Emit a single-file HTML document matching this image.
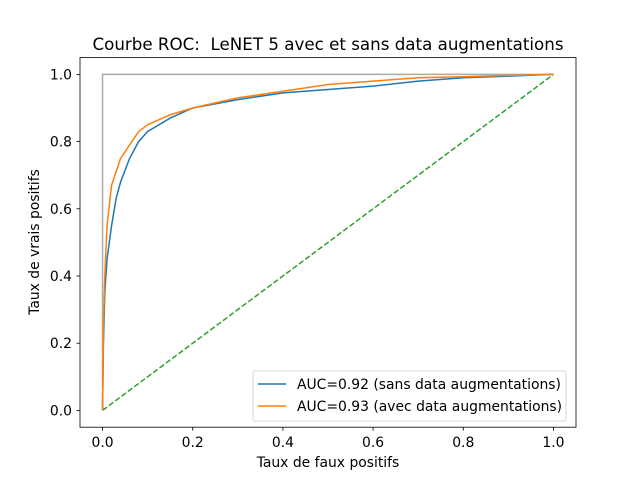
<!DOCTYPE html>
<html><head><meta charset="utf-8"><style>
body{margin:0;background:#fff}
svg{display:block;font-family:"DejaVu Sans","Liberation Sans",sans-serif}
</style></head><body>
<svg id="chart" width="640" height="480" viewBox="0 0 640 480" xmlns="http://www.w3.org/2000/svg">
<rect width="640" height="480" fill="#fff"/>
<text x="328" y="50" font-size="16.7" text-anchor="middle" style="white-space:pre" xml:space="preserve">Courbe ROC:  LeNET 5 avec et sans data augmentations</text>
<g id="plot"></g>
<rect x="80" y="57.6" width="496" height="369.6" fill="none" stroke="#000" stroke-width="0.8"/>
<text x="328" y="467" font-size="13.9" text-anchor="middle">Taux de faux positifs</text>
<text transform="translate(39,242) rotate(-90)" font-size="13.9" text-anchor="middle">Taux de vrais positifs</text>
<g>
<rect x="253" y="371" width="313" height="50" rx="2" fill="#fff" fill-opacity="0.8" stroke="#ccc" stroke-width="0.8"/>
<line x1="258" y1="384" x2="286" y2="384" stroke="#1f77b4" stroke-width="1.5"/>
<text x="297" y="389" font-size="13.9">AUC=0.92 (sans data augmentations)</text>
<line x1="258" y1="406" x2="286" y2="406" stroke="#ff7f0e" stroke-width="1.5"/>
<text x="297" y="411" font-size="13.9">AUC=0.93 (avec data augmentations)</text>
</g>
</svg>
<script>
const xTicks=[0,0.2,0.4,0.6,0.8,1.0];
const yTicks=[0,0.2,0.4,0.6,0.8,1.0];
const blueFpr=[0,0.002,0.005,0.01,0.02,0.03,0.04,0.06,0.08,0.1,0.15,0.2,0.3,0.4,0.5,0.6,0.7,0.8,0.9,1];
const blueTpr=[0,0.2,0.35,0.45,0.55,0.63,0.68,0.75,0.8,0.83,0.87,0.9,0.925,0.945,0.955,0.965,0.98,0.99,0.995,1];
const orangeFpr=[0,0.002,0.005,0.01,0.02,0.03,0.04,0.06,0.08,0.1,0.15,0.2,0.3,0.4,0.5,0.6,0.7,0.8,0.9,1];
const orangeTpr=[0,0.25,0.4,0.55,0.67,0.71,0.75,0.79,0.83,0.85,0.88,0.9,0.93,0.95,0.97,0.98,0.99,0.993,0.997,1];
const idealFpr=[0,0,1];
const idealTpr=[0,1,1];
const diagFpr=[0,1];
const diagTpr=[0,1];
const NS="http://www.w3.org/2000/svg";
const X=v=>80+(v+0.05)/1.1*496;
const Y=v=>427.2-(v+0.05)/1.1*369.6;
const g=document.getElementById('plot');
function mk(t,a){const e=document.createElementNS(NS,t);for(const k in a)e.setAttribute(k,a[k]);g.appendChild(e);return e;}
xTicks.forEach(t=>{
  const l=mk('line',{x1:X(t),x2:X(t),y1:427.2,y2:430.7,stroke:'#000','stroke-width':0.8});
  
  
  const s=mk('text',{x:X(t),y:447,'font-size':13.9,'text-anchor':'middle'});s.textContent=t.toFixed(1);
  
  
});
yTicks.forEach(t=>{
  const l=mk('line',{x1:76.5,x2:80,y1:Y(t),y2:Y(t),stroke:'#000','stroke-width':0.8});
  
  
  const s=mk('text',{x:72,y:Y(t)+5,'font-size':13.9,'text-anchor':'end'});s.textContent=t.toFixed(1);
  
  
});
function line(xs,ys,color,name,dash){
  const p=mk('polyline',{points:xs.map((x,i)=>X(x)+','+Y(ys[i])).join(' '),fill:'none',stroke:color,'stroke-width':1.5});
  if(dash)p.setAttribute('stroke-dasharray','5.5,2.4');
  
  
}
line(diagFpr,diagTpr,'#2ca02c','random-diagonal',true);
line(idealFpr,idealTpr,'#aaaaaa','ideal-curve');
line(blueFpr,blueTpr,'#1f77b4','roc-sans-augmentation');
line(orangeFpr,orangeTpr,'#ff7f0e','roc-avec-augmentation');
</script>
</body></html>
